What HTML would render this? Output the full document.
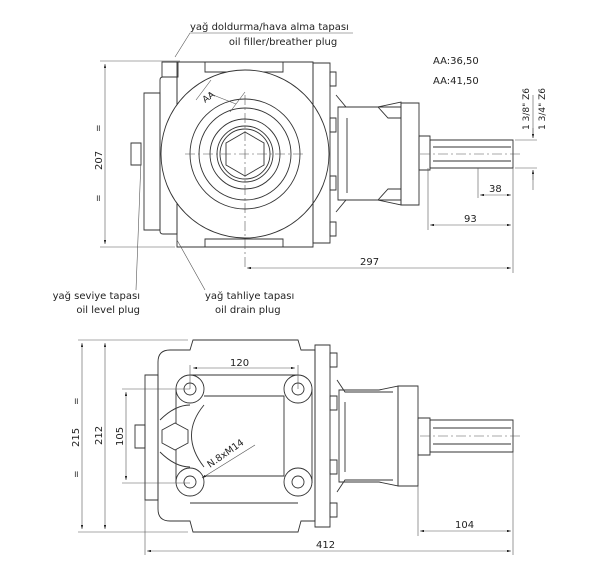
<!DOCTYPE html>
<html><head><meta charset="utf-8"><style>
html,body{margin:0;padding:0;background:#fff}
svg{display:block}
text{font-family:"DejaVu Sans","Liberation Sans",sans-serif;fill:#222}
</style></head><body>
<svg width="600" height="577" viewBox="0 0 600 577" xmlns="http://www.w3.org/2000/svg">
<defs>
<marker id="a" viewBox="0 0 10 6" refX="10" refY="3" markerWidth="8" markerHeight="4" orient="auto-start-reverse"><path d="M0,0 L10,3 L0,6z" fill="#222"/></marker>
</defs>
<g fill="none" stroke="#333" stroke-width="0.9">
<!-- TOP VIEW -->
<path d="M144,93 h16 v137 h-16z"/>
<path d="M160,80 q0,-3 3,-3 h14 v157 h-14 q-3,0 -3,-3z"/>
<path d="M162,62 h16 v15 h-16z"/>
<path d="M177,62 h136 v185 h-136z"/>
<path d="M205,62 h78 v10 h-78z"/>
<path d="M205,247 v-8 h78 v8"/>
<circle cx="245" cy="154" r="84" fill="#fff"/>
<circle cx="245" cy="154" r="55"/>
<circle cx="245" cy="154" r="46"/>
<circle cx="245" cy="154" r="35"/>
<circle cx="245" cy="154" r="28"/>
<circle cx="245" cy="154" r="25"/>
<path d="M245,132 l19,11 v22 l-19,11 l-19,-11 v-22z"/>
<path d="M313,63 h17 v180 h-17z"/>
<path d="M330,72 h6 v14 h-6z M330,118 h6 v14 h-6z M330,176 h6 v14 h-6z M330,222 h6 v14 h-6z"/>
<path d="M336,95 l10,12 h55 M336,212 l10,-12 h55"/>
<path d="M338,107 h40 l23,-5 v103 l-23,-5 h-40z"/>
<path d="M347,118 v75 M378,107 l10,11 h13 M378,200 l10,-11 h13"/>
<path d="M401,103 h18 v102 h-18z"/>
<path d="M419,136 h11 v34 h-11z"/>
<path d="M430,140 h83 v28 h-83z"/>
<path d="M433,147 h78 M433,161 h78"/>
<!-- BOTTOM VIEW -->
<path d="M145,375 h13 v125 h-13z"/>
<path d="M158,362 q0,-12 12,-12 h20 l3,-10 h105 l3,10 h14 v171 h-14 l-3,11 h-105 l-3,-11 h-20 q-12,0 -12,-12z"/>
<path d="M315,345 h15 v182 h-15z"/>
<path d="M330,353 h7 v14 h-7z M330,396 h7 v14 h-7z M330,460 h7 v14 h-7z M330,503 h7 v14 h-7z"/>
<path d="M337,380 l8,12 h48 M337,492 l8,-12 h48"/>
<path d="M339,390 h40 l19,-4 v100 l-19,-4 h-40z M345,402 v70"/>
<path d="M398,386 h20 v100 h-20z"/>
<path d="M418,418 h12 v37 h-12z"/>
<path d="M430,420 h83 v32 h-83z M433,428 h78 M433,444 h78"/>
<path d="M190,375 h108 M190,503 h108 M176,389 v94 M312,389 v94"/>
<path d="M204,396 h80 v80 h-80"/>
<path d="M204,405 q-25,30 0,62"/>
<path d="M160,420 q15,-15 30,-15 M160,452 q15,15 30,15"/>
<circle cx="190" cy="389" r="14" fill="#fff"/><circle cx="298" cy="389" r="14" fill="#fff"/>
<circle cx="190" cy="482" r="14" fill="#fff"/><circle cx="298" cy="482" r="14" fill="#fff"/>
<circle cx="190" cy="389" r="6"/><circle cx="298" cy="389" r="6"/>
<circle cx="190" cy="482" r="6"/><circle cx="298" cy="482" r="6"/>
<path d="M175,423 l13,7 v13 l-13,7 l-13,-7 v-13z" fill="#fff"/>
<path d="M135,425 h10 v23 h-10z"/>
<path d="M131,143 h10 v22 h-10z"/>
</g>
<g fill="none" stroke="#555" stroke-width="0.6">
<path d="M245,95 v175 M185,154 h120 M420,154 h100 M420,436 h100" stroke-dasharray="10,3,2,3"/>
<path d="M100,61 h80 M100,247 h75"/>
<path d="M105,64 v180" marker-start="url(#a)" marker-end="url(#a)"/>
<path d="M513,168 v105 M428,168 v62 M478,168 v30"/>
<path d="M480,195 h31" marker-start="url(#a)" marker-end="url(#a)"/>
<path d="M430,225 h81" marker-start="url(#a)" marker-end="url(#a)"/>
<path d="M247,268 h264" marker-start="url(#a)" marker-end="url(#a)"/>
<path d="M533,95 v43 M533,170 v20 M515,140 h22 M515,168 h22" />
<path d="M533,128 v10" marker-end="url(#a)"/><path d="M533,180 v-10" marker-end="url(#a)"/>
<path d="M196,100 l15,-20 M230,112 l15,-20 M208,93 l28,11" />
<path d="M353,33 h-163 l-15,24 M141,160 l-5,130 M177,240 l28,50"/>
<path d="M78,340 h110 M78,532 h110"/>
<path d="M82,343 v186" marker-start="url(#a)" marker-end="url(#a)"/>
<path d="M105,343 v186" marker-start="url(#a)" marker-end="url(#a)"/>
<path d="M122,389 h68 M122,483 h68"/>
<path d="M126,392 v88" marker-start="url(#a)" marker-end="url(#a)"/>
<path d="M190,365 v24 M298,365 v24"/>
<path d="M193,368 h102" marker-start="url(#a)" marker-end="url(#a)"/>
<path d="M418,486 v50 M513,452 v103 M145,500 v55"/>
<path d="M420,531 h91" marker-start="url(#a)" marker-end="url(#a)"/>
<path d="M147,551 h364" marker-start="url(#a)" marker-end="url(#a)"/>
<path d="M255,445 l-53,33" marker-end="url(#a)"/>
</g>
<g font-size="10">
<text x="190" y="30">yağ doldurma/hava alma tapası</text>
<text x="283" y="45" text-anchor="middle">oil filler/breather plug</text>
<text x="433" y="64">AA:36,50</text>
<text x="433" y="84">AA:41,50</text>
<text x="140" y="299" text-anchor="end">yağ seviye tapası</text>
<text x="140" y="313" text-anchor="end">oil level plug</text>
<text x="205" y="299">yağ tahliye tapası</text>
<text x="215" y="313">oil drain plug</text>
<text x="360" y="265">297</text>
<text x="464" y="222">93</text>
<text x="489" y="192">38</text>
<text x="230" y="366">120</text>
<text x="455" y="528">104</text>
<text x="316" y="548">412</text>
<text transform="translate(102,170) rotate(-90)">207</text>
<text transform="translate(79,447) rotate(-90)">215</text>
<text transform="translate(102,445) rotate(-90)">212</text>
<text transform="translate(123,446) rotate(-90)">105</text>
<text transform="translate(210,468) rotate(-35)" font-size="9.5">N.8xM14</text>
<text transform="translate(529,130) rotate(-90)" font-size="9">1 3/8" Z6</text>
<text transform="translate(545,130) rotate(-90)" font-size="9">1 3/4" Z6</text>
<text transform="translate(205,103) rotate(-35)" font-size="9">AA</text>
<text transform="translate(101,132) rotate(-90)" font-size="9">=</text>
<text transform="translate(101,202) rotate(-90)" font-size="9">=</text>
<text transform="translate(79,405) rotate(-90)" font-size="9">=</text>
<text transform="translate(79,478) rotate(-90)" font-size="9">=</text>
</g>
</svg>
</body></html>
